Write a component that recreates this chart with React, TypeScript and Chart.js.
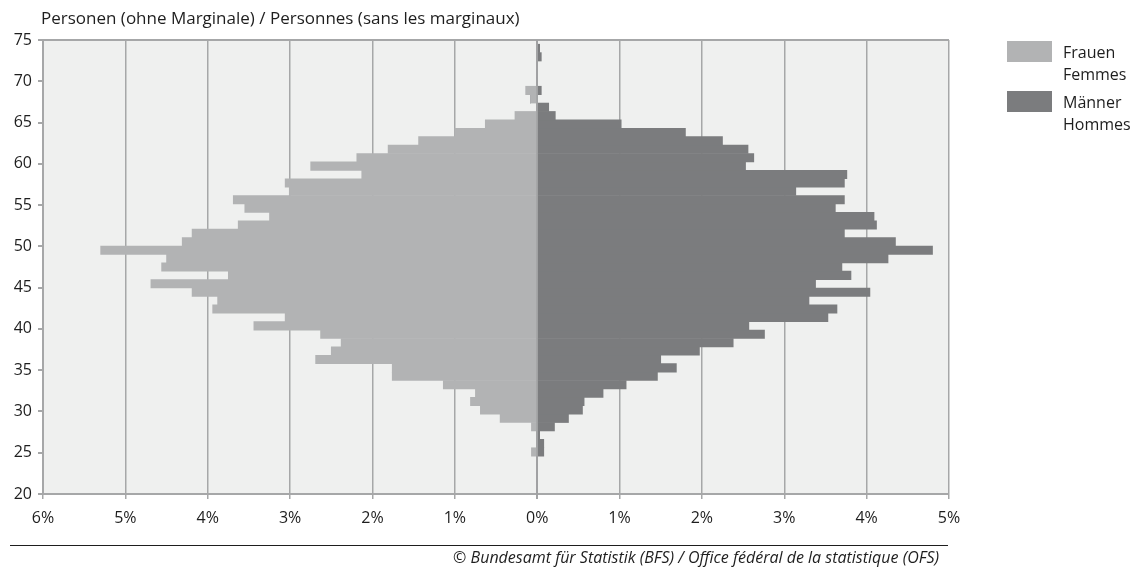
import React, { useEffect, useRef } from "react";
import { Chart, registerables } from "chart.js";

Chart.register(...registerables);

// Ages (one bar per year of age)
const ages = [
  20, 21, 22, 23, 24, 25, 26, 27, 28, 29,
  30, 31, 32, 33, 34, 35, 36, 37, 38, 39,
  40, 41, 42, 43, 44, 45, 46, 47, 48, 49,
  50, 51, 52, 53, 54, 55, 56, 57, 58, 59,
  60, 61, 62, 63, 64, 65, 66, 67, 68, 69,
  70, 71, 72, 73, 74,
];

// Share of persons (%) per age – women (drawn to the left)
const femalePct = [
  0, 0, 0, 0, 0, 0.07, 0, 0, 0.07, 0.45,
  0.69, 0.81, 0.75, 1.14, 1.76, 1.76, 2.69, 2.5, 2.38, 2.63,
  3.44, 3.06, 3.94, 3.88, 4.19, 4.69, 3.75, 4.56, 4.5, 5.3,
  4.31, 4.19, 3.63, 3.25, 3.55, 3.69, 3.01, 3.06, 2.13, 2.75,
  2.19, 1.81, 1.44, 1.0, 0.63, 0.27, 0, 0.08, 0.14, 0,
  0, 0, 0, 0, 0,
];

// Share of persons (%) per age – men (drawn to the right)
const malePct = [
  0, 0, 0, 0, 0, 0.08, 0.08, 0.03, 0.21, 0.38,
  0.55, 0.57, 0.8, 1.08, 1.46, 1.69, 1.5, 1.97, 2.38, 2.76,
  2.57, 3.53, 3.64, 3.3, 4.04, 3.38, 3.81, 3.7, 4.26, 4.8,
  4.35, 3.73, 4.12, 4.09, 3.62, 3.73, 3.14, 3.73, 3.76, 2.53,
  2.63, 2.56, 2.25, 1.8, 1.02, 0.22, 0.14, 0, 0.05, 0,
  0, 0, 0.05, 0.03, 0,
];

const xTickValues = [-6, -5, -4, -3, -2, -1, 0, 1, 2, 3, 4, 5];
const yTickValues = [20, 25, 30, 35, 40, 45, 50, 55, 60, 65, 70, 75];

const seriesLabels = [
  ["Frauen", "Femmes"],
  ["Männer", "Hommes"],
];
const seriesColors = ["#b2b3b4", "#7b7c7e"];

const titleText = "Personen (ohne Marginale) / Personnes (sans les marginaux)";
const sourceText =
  "© Bundesamt für Statistik (BFS) / Office fédéral de la statistique (OFS)";

const FONT = "'Open Sans', 'DejaVu Sans', sans-serif";
const GRID = "#a6a7a8";
const TEXT = "#1e1e1e";

const plotBackground = {
  id: "plotBackground",
  beforeDraw(chart: any) {
    const { ctx, chartArea } = chart;
    ctx.save();
    ctx.fillStyle = "#eff0ef";
    ctx.fillRect(
      chartArea.left,
      chartArea.top,
      chartArea.right - chartArea.left,
      chartArea.bottom - chartArea.top
    );
    ctx.restore();
  },
};

const zeroLine = {
  id: "zeroLine",
  afterDatasetsDraw(chart: any) {
    const { ctx, chartArea } = chart;
    const x = chart.scales.x.getPixelForValue(0);
    ctx.save();
    ctx.strokeStyle = "#a0a1a2";
    ctx.lineWidth = 1.5;
    ctx.beginPath();
    ctx.moveTo(x, chartArea.top);
    ctx.lineTo(x, chartArea.bottom + 5);
    ctx.stroke();
    ctx.restore();
  },
};

export default function App() {
  const canvasRef = useRef<HTMLCanvasElement | null>(null);

  useEffect(() => {
    document.body.style.margin = "0";
    const canvas = canvasRef.current;
    if (!canvas) return;
    const chart = new Chart(canvas, {
      type: "bar",
      data: {
        labels: ages.map(String),
        datasets: [
          {
            label: seriesLabels[0].join(" / "),
            data: femalePct.map((v) => -v),
            backgroundColor: seriesColors[0],
            borderWidth: 0,
            barPercentage: 1,
            categoryPercentage: 1,
            stack: "pyramid",
            xAxisID: "x",
            yAxisID: "y",
          },
          {
            label: seriesLabels[1].join(" / "),
            data: malePct,
            backgroundColor: seriesColors[1],
            borderWidth: 0,
            barPercentage: 1,
            categoryPercentage: 1,
            stack: "pyramid",
            xAxisID: "x",
            yAxisID: "y",
          },
        ],
      },
      options: {
        indexAxis: "y",
        responsive: false,
        animation: false,
        devicePixelRatio: 1,
        layout: { padding: { top: 40, right: 189, bottom: 34, left: 0 } },
        plugins: {
          legend: { display: false },
          tooltip: { enabled: false },
          title: { display: false },
        },
        scales: {
          x: {
            type: "linear",
            position: "bottom",
            min: -6,
            max: 5,
            stacked: true,
            afterBuildTicks: (scale: any) => {
              scale.ticks = xTickValues.map((v) => ({ value: v }));
            },
            afterFit: (scale: any) => {
              scale.height = 40;
            },
            ticks: {
              autoSkip: false,
              maxRotation: 0,
              padding: 10,
              color: TEXT,
              font: { family: FONT, size: 16 },
              callback: (v: any) => Math.abs(Number(v)) + "%",
            },
            grid: {
              color: GRID,
              lineWidth: 1.5,
              drawTicks: true,
              tickLength: 5,
              tickColor: GRID,
            },
            border: { display: true, color: GRID, width: 2 },
          },
          y: {
            type: "category",
            display: false,
            reverse: true,
            offset: false,
            stacked: true,
            grid: { display: false, offset: false },
          },
          yAge: {
            type: "linear",
            position: "left",
            min: 20,
            max: 75,
            offset: false,
            afterBuildTicks: (scale: any) => {
              scale.ticks = yTickValues.map((v) => ({ value: v }));
            },
            afterFit: (scale: any) => {
              scale.width = 43;
            },
            ticks: {
              autoSkip: false,
              padding: 6,
              color: TEXT,
              font: { family: FONT, size: 16 },
            },
            grid: {
              offset: false,
              color: (ctx: any) =>
                ctx.tick && ctx.tick.value === 75 ? GRID : "rgba(0,0,0,0)",
              lineWidth: 2,
              drawTicks: true,
              tickLength: 5,
              tickColor: GRID,
            },
            border: { display: true, color: GRID, width: 2 },
          },
        },
      },
      plugins: [plotBackground, zeroLine],
    });
    return () => chart.destroy();
  }, []);

  const textStyle: React.CSSProperties = {
    position: "absolute",
    fontFamily: FONT,
    color: TEXT,
    whiteSpace: "nowrap",
  };

  return (
    <div style={{ position: "relative", width: 1138, height: 568, background: "#ffffff", overflow: "hidden" }}>
      <canvas ref={canvasRef} width={1138} height={568} style={{ position: "absolute", left: 0, top: 0, width: 1138, height: 568 }} />
      <div style={{ ...textStyle, left: 41, top: 7, fontSize: 17, lineHeight: "22px" }}>{titleText}</div>
      {seriesLabels.map((lines, i) => (
        <div key={i} style={{ position: "absolute", left: 1007, top: 41 + i * 50, height: 44 }}>
          <div style={{ position: "absolute", left: 0, top: 0, width: 45, height: 21, background: seriesColors[i] }} />
          <div style={{ ...textStyle, left: 56, top: 0, fontSize: 16, lineHeight: "22px" }}>
            {lines.map((l, j) => (
              <div key={j}>{l}</div>
            ))}
          </div>
        </div>
      ))}
      <div style={{ position: "absolute", left: 10, top: 545, width: 938, height: 0, borderTop: "1px solid #1e1e1e" }} />
      <div style={{ ...textStyle, right: 199, top: 547, fontSize: 16, fontStyle: "italic", lineHeight: "21px" }}>{sourceText}</div>
    </div>
  );
}
